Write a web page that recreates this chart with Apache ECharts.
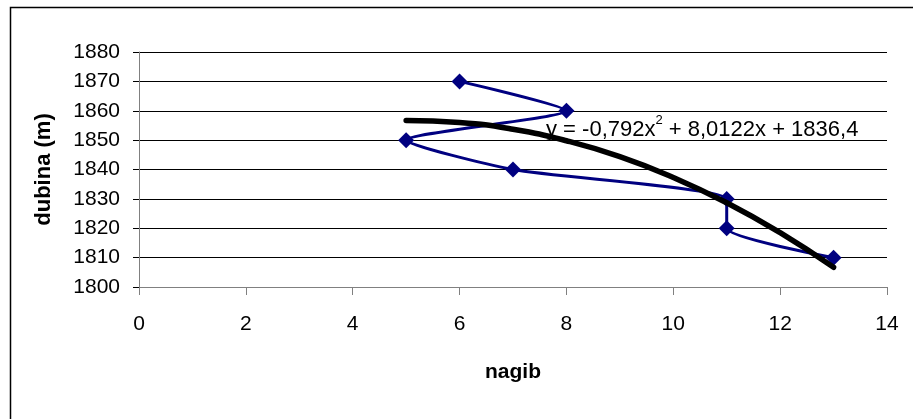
<!DOCTYPE html>
<html>
<head>
<meta charset="utf-8">
<script src="https://cdn.jsdelivr.net/npm/echarts@6/dist/echarts.min.js"></script>
<style>
  html, body { margin: 0; padding: 0; background: #fff; }
  #chart { width: 913px; height: 419px; }
</style>
</head>
<body>
<div id="chart"></div>
<script>
// measured points: nagib (x) vs dubina (y)
const nagib = [6, 8, 5, 7, 11, 11, 13]
const dubina = [1870, 1860, 1850, 1840, 1830, 1820, 1810]

// polynomial trendline
const trendX = [5, 6, 7, 8, 9, 10, 11, 12, 13]
const trendY = [1856.7, 1856.0, 1853.7, 1849.8, 1844.4, 1837.3, 1828.7, 1818.5, 1806.7]

const xTicks = [0, 2, 4, 6, 8, 10, 12, 14]
const yTicks = [1800, 1810, 1820, 1830, 1840, 1850, 1860, 1870, 1880]

const font = 'Liberation Sans, Arial, sans-serif'

const chart = echarts.init(document.getElementById('chart'))
chart.setOption({
    animation: false,
    grid: {
        left: 139,
        right: 26,
        top: 52,
        bottom: 132,
        containLabel: false
    },
    xAxis: {
        type: 'value',
        min: xTicks[0],
        max: xTicks[xTicks.length - 1],
        interval: 2,
        name: 'nagib',
        nameLocation: 'middle',
        nameGap: 75,
        nameTextStyle: { fontFamily: font, fontSize: 21, fontWeight: 'bold', color: '#000' },
        axisLine: { show: true, onZero: false, lineStyle: { color: '#808080', width: 1 } },
        axisTick: { show: true, length: 8, lineStyle: { color: '#808080' } },
        axisLabel: { fontFamily: font, fontSize: 21, color: '#000', margin: 27 },
        splitLine: { show: false }
    },
    yAxis: {
        type: 'value',
        min: yTicks[0],
        max: yTicks[yTicks.length - 1],
        interval: 10,
        name: 'dubina (m)',
        nameLocation: 'middle',
        nameGap: 84,
        nameRotate: 90,
        nameTextStyle: { fontFamily: font, fontSize: 22, fontWeight: 'bold', color: '#000' },
        axisLine: { show: true, lineStyle: { color: '#808080', width: 1 } },
        axisTick: { show: true, length: 6, lineStyle: { color: '#000' } },
        axisLabel: { fontFamily: font, fontSize: 21, color: '#000', margin: 19, formatter: v => String(v) },
        splitLine: { show: true, lineStyle: { color: '#000', width: 1 } }
    },
    graphic: [
        {
            type: 'rect',
            left: 8,
            top: 5,
            shape: { width: 920, height: 430 },
            style: { fill: 'none', stroke: '#000', lineWidth: 1.5 },
            silent: true,
            z: -1
        },
        {
            type: 'text',
            left: 546,
            top: 114,
            z: 100,
            style: {
                text: '{m|y = -0,792x}{s|2}{m| + 8,0122x + 1836,4}',
                rich: {
                    m: { fontFamily: font, fontSize: 22, fill: '#000', padding: [7, 0, 0, 0] },
                    s: { fontFamily: font, fontSize: 13, fill: '#000', padding: [0, 0, 12, 0] }
                }
            }
        }
    ],
    series: [
        {
            name: 'dubina',
            type: 'line',
            data: nagib.map((x, i) => [x, dubina[i]]),
            smooth: 0.2,
            symbol: 'diamond',
            symbolSize: 16,
            itemStyle: { color: '#000080' },
            lineStyle: { color: '#000080', width: 3 },
            z: 3
        },
        {
            name: 'trend',
            type: 'line',
            data: trendX.map((x, i) => [x, trendY[i]]),
            smooth: true,
            showSymbol: false,
            lineStyle: { color: '#000', width: 5.5, cap: 'round' },
            z: 4
        }
    ]
})
</script>
</body>
</html>
